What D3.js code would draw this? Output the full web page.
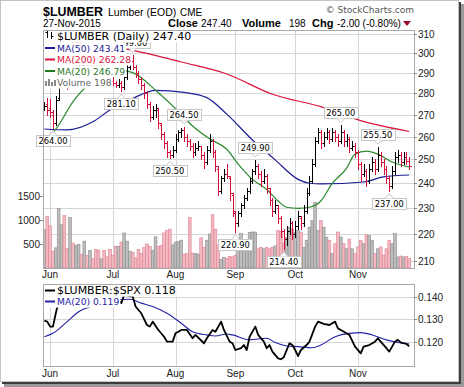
<!DOCTYPE html>
<html>
<head>
<meta charset="utf-8">
<title>$LUMBER</title>
<script src="https://cdnjs.cloudflare.com/ajax/libs/d3/7.8.5/d3.min.js"></script>
<style>
  body { margin: 0; background: #fff; }
  svg { display: block; font-family: "Liberation Sans", Arial, sans-serif; }
  .grid { stroke: #d6d6d6; stroke-width: 1; shape-rendering: crispEdges; }
  .frame { fill: none; stroke: #a8a8a8; shape-rendering: crispEdges; }
  .axis text { font-size: 10px; fill: #222; }
  .axis line { stroke: #888; shape-rendering: crispEdges; }
  .legend { font-family: "DejaVu Sans", Verdana, sans-serif; font-size: 9px; }
  .peak text { font-family: "DejaVu Sans", Verdana, sans-serif; font-size: 8.3px; fill: #000; }
</style>
</head>
<body>
<svg id="chart" width="464" height="387"></svg>
<script>
// trading days
var startDay = "2015-05-28", endDay = "2015-11-27";
var holidays = ["2015-07-03", "2015-09-07", "2015-11-26"];

// daily OHLC + volume, one entry per trading day
var opens = [273,275,273,270,266,278,284,288,286,284, 290,288,293,296,294,297,295,297,295,293,
  291,293,290,288,286,285,284,285,283,288, 293,296,293,290,287,284,280,275,269,272,
  272,265,261,257,253,252,254,259,262,263, 260,258,256,253,255,256,252,249,254,258,
  253,246,237,242,244,242,235,228,224,228, 231,234,237,241,245,247,244,241,243,237,
  233,229,230,226,221,218,221,224,220,223, 226,224,229,236,241,248,258,262,257,260,
  262,259,262,260,258,262,258,259,255,256, 253,248,244,245,241,246,249,246,252,249,
  246,242,239,245,251,252,249,251,249.4];
var highs = [276,278,277.5,272,279,285,290,290,288,291, 292,294,297,297,298,298,298,298,296,294,
  294,294,291,289,288,286,287,286,289,294, 297,299,294,291,288,285,281,276,274,275,
  273,266,262,258,254,256,261,263,264,264.5, 261,259,257,257,258,256,253,256,261,259,
  254,247,243,246,248,243,236,229,229,232, 235,238,242,246,249.9,248,245,246,244,238,
  234,233,231,227,222,223,226,225,225,229, 227,231,238,243,250,260,264,263,262,264,
  263,264,263,261,265,263,261,260,258,257, 254,249,248,246,248,251,250,255.5,253,250,
  247,243,247,253,254,253,253,253,251];
var lows = [272,270,269,264,265,277,283,285,282,283, 287,287,292,292,293,293,294,293,291,289,
  290,289,286,284,284,283,283,281.1,282,287, 292,292,288,285,282,278,273,267,268,269,
  264,259,255,251,250.5,251,253,258,260,258, 256,254,251,252,254,250,246.5,248,253,251,
  245,235,236,241,242,233,227,220.9,223,227, 230,233,236,240,244,242,239,240,236,231,
  227,228,224,219,214.4,216,220,218,219,222, 222,223,228,235,240,247,257,255,256,259,
  257,258,258,256,257,256,256,253,254,251, 246,241,243,239,240,245,244,245,247,244,
  240,237,238,244,249,247,248,248,246];
var closes = [274,272,271,266,277,283,288,286,284,290, 288,293,296,294,297,295,297,295,293,291,
  293,290,288,286,285,284,285,283,288,293, 296,293,290,287,284,280,275,269,272,273,
  266,261,257,253,252,254,259,262,263,260, 258,256,253,255,256,252,249,254,258,253,
  247,237,242,244,243,236,229,224,228,231, 234,237,241,245,247,244,241,243,238,233,
  229,231,226,221,218,221,224,220,223,227, 224,229,236,241,248,258,262,257,260,262,
  259,262,260,258,262,258,259,255,256,253, 248,244,245,241,246,249,246,252,249,246,
  242,239,245,251,252,249,251,249.4,247.4];
var volumes = [800,1070,880,350,420,1240,900,1090,410,1050, 520,470,490,280,560,260,370,200,390,370,
  190,370,240,390,260,450,450,540,730,560, 350,330,210,390,300,430,500,450,370,650,
  450,470,730,780,810,480,540,550,580,290, 300,1050,310,300,290,630,430,580,710,1110,
  810,480,180,220,200,240,230,260,410,720, 400,420,740,750,750,400,430,400,430,400,
  430,460,780,760,520,640,850,810,740,780, 740,430,580,850,990,1370,780,990,850,645,
  577,300,506,750,645,506,400,600,400,300, 440,575,506,690,680,575,300,400,440,270,
  400,575,506,720,230,250,230,240,198];

// moving averages: [day index, value]
var ma20Pts = [[0,259],[4,263.4],[10,276],[16,284.9],[21,289],[26,291.5],[31,290.2],[40,280.3],[46,272.8],
  [52,264.8],[58,259],[64,254.4],[68,248],[73,241.6],[78,237.4],[82,232.8],[85,230.3],[89,229.9],
  [93,230.3],[97,232.8],[101,239.9],[106,246.2],[109,252.3],[113,253.6],[117,252.3],[122,248.9],[128,246.79]];
var ma50Pts = [[0,263.4],[8,263],[17,266.7],[23,272.1],[31,277.6],[39,281.5],[49,280.5],[57,278],
  [64,270.2],[73,258.5],[81,249.8],[89,241.6],[93,240],[97,239.7],[112,240.5],[119,242.6],[128,243.41]];
var ma200Pts = [[0,308],[12,305.5],[28,302.3],[31,301.5],[48,295.5],[64,289.5],[80,279.6],[97,273.7],
  [111,267.2],[128,262.28]];

// $LUMBER:$SPX ratio and its MA(20)
var ratioPts = [[0,0.1293],[1,0.1289],[2,0.1267],[3,0.1267],[4,0.1326],[5,0.1378],[7,0.1405],[10,0.1425],
  [13,0.1415],[16,0.1440],[19,0.1420],[22,0.1430],[25,0.1393],[27,0.1371],[28,0.1408],[31,0.1400],
  [32,0.1356],[34,0.1326],[36,0.1274],[37,0.1267],[38,0.1289],[40,0.1252],[42,0.1222],[43,0.1200],
  [45,0.1200],[46,0.1237],[47,0.1244],[48,0.1252],[50,0.1252],[52,0.1215],[53,0.1230],[56,0.1193],
  [57,0.1215],[59,0.1252],[60,0.1244],[62,0.1289],[63,0.1252],[65,0.1200],[66,0.1193],[67,0.1163],
  [69,0.1171],[70,0.1185],[71,0.1163],[72,0.1222],[74,0.1267],[75,0.1230],[77,0.1200],[78,0.1171],
  [79,0.1185],[80,0.1156],[82,0.1126],[83,0.1122],[84,0.1131],[86,0.1193],[87,0.1185],[88,0.1163],
  [89,0.1136],[90,0.1163],[92,0.1185],[93,0.1200],[95,0.1267],[96,0.1289],[98,0.1279],[100,0.1274],
  [102,0.1289],[103,0.1259],[104,0.1252],[106,0.1237],[107,0.1230],[109,0.1178],[111,0.1148],
  [112,0.1178],[114,0.1185],[116,0.1200],[117,0.1215],[118,0.1200],[120,0.1171],[121,0.1156],
  [123,0.1200],[124,0.1208],[125,0.1197],[126,0.1193],[127,0.1190],[128,0.118]];
var ratioMaPts = [[0,0.1222],[3,0.1237],[8,0.1289],[12,0.1333],[17,0.1359],[25,0.1385],[30,0.1388],
  [34,0.1371],[38,0.1356],[43,0.1326],[48,0.1282],[52,0.1244],[57,0.1230],[60,0.1225],[64,0.1234],
  [66,0.1230],[72,0.1208],[78,0.1215],[81,0.1196],[85,0.1181],[89,0.1178],[94,0.1173],[97,0.1185],
  [102,0.1222],[107,0.1237],[111,0.1240],[115,0.1230],[120,0.1208],[124,0.1196],[128,0.119]];

// annotated highs / lows: [day index, "high"|"low"]
var peaks = [[3,"low"],[27,"low"],[31,"high"],[44,"low"],[49,"high"],[67,"low"],[74,"high"],
  [84,"low"],[104,"high"],[117,"high"],[121,"low"]];

var priceTicks = [210,220,230,240,250,260,270,280,290,300,310];
var volumeTicks = [500,1000,1500];
var ratioTicks = [0.120,0.130,0.140];

// ---------------------------------------------------------------
var parse = d3.utcParse("%Y-%m-%d"), fmt = d3.utcFormat("%Y-%m-%d");
var days = d3.utcDays(parse(startDay), d3.utcDay.offset(parse(endDay), 1))
  .filter(function(d) { return d.getUTCDay() % 6 !== 0 && holidays.indexOf(fmt(d)) < 0; });
var monthStarts = [];
days.forEach(function(d, i) {
  if (i > 0 && d.getUTCMonth() !== days[i - 1].getUTCMonth()) monthStarts.push(i);
});

var P = {l: 43, r: 414, t: 30, b: 268};
var Q = {t: 284, b: 366};

var x = d3.scaleLinear().domain([0, days.length - 1]).range([44.4, 409.2]);
var yP = d3.scaleLog().domain([207.5, 312.2]).range([P.b, P.t]);
var yV = d3.scaleLinear().domain([0, 4958]).range([P.b, P.t]);
var yR = d3.scaleLinear().domain([0.1092, 0.1456]).range([Q.b, Q.t]);

var RED = "#d40f3c";
function px(v) { return Math.round(v) + 0.5; }

var svg = d3.select("#chart");

// outer frame with shadow
svg.append("rect").attr("x", 4).attr("y", 4).attr("width", 460).attr("height", 383).attr("fill", "#9a9a9a");
svg.append("rect").attr("x", 2).attr("y", 2).attr("width", 459).attr("height", 382).attr("fill", "#3c3c3c");
svg.append("rect").attr("x", 0.5).attr("y", 0.5).attr("width", 458).attr("height", 381)
  .attr("fill", "#fff").attr("stroke", "#c4c4c4");

var defs = svg.append("defs");
defs.append("clipPath").attr("id", "clipP").append("rect")
  .attr("x", P.l).attr("y", P.t).attr("width", P.r - P.l).attr("height", P.b - P.t);
defs.append("clipPath").attr("id", "clipQ").append("rect")
  .attr("x", P.l).attr("y", Q.t).attr("width", P.r - P.l).attr("height", Q.b - Q.t);

// header
var head = svg.append("g");
head.append("text").attr("x", 43).attr("y", 16).attr("font-size", 13.5).attr("font-weight", "bold")
  .attr("textLength", 60).attr("lengthAdjust", "spacingAndGlyphs").text("$LUMBER");
head.append("text").attr("x", 108).attr("y", 16).attr("font-size", 10.5).text("Lumber (EOD)");
head.append("text").attr("x", 180).attr("y", 16).attr("font-size", 10).text("CME");
head.append("text").attr("x", 43).attr("y", 27).attr("font-size", 10).text("27-Nov-2015");
head.append("text").attr("x", 168).attr("y", 27).attr("font-size", 11).attr("font-weight", "bold").text("Close");
head.append("text").attr("x", 201).attr("y", 27).attr("font-size", 10).text("247.40");
head.append("text").attr("x", 242).attr("y", 27).attr("font-size", 11).attr("font-weight", "bold").text("Volume");
head.append("text").attr("x", 289).attr("y", 27).attr("font-size", 10).text("198");
head.append("text").attr("x", 312).attr("y", 27).attr("font-size", 11).attr("font-weight", "bold").text("Chg");
head.append("text").attr("x", 337).attr("y", 27).attr("font-size", 10).text("-2.00 (-0.80%)");
head.append("path").attr("d", "M403,21L411,21L407,26Z").attr("fill", "#99102e");
head.append("text").attr("x", 414).attr("y", 13).attr("text-anchor", "end")
  .attr("font-family", "'DejaVu Sans', Verdana, sans-serif").attr("font-size", 9).attr("fill", "#555")
  .text("\u00a9 StockCharts.com");

// grids
var grid = svg.append("g");
grid.selectAll(".hp").data(priceTicks).join("line").attr("class", "grid")
  .attr("x1", P.l).attr("x2", P.r).attr("y1", function(d) { return px(yP(d)); }).attr("y2", function(d) { return px(yP(d)); });
grid.selectAll(".hr").data(ratioTicks).join("line").attr("class", "grid hr")
  .attr("x1", P.l).attr("x2", P.r).attr("y1", function(d) { return px(yR(d)); }).attr("y2", function(d) { return px(yR(d)); });
monthStarts.forEach(function(i) {
  grid.append("line").attr("class", "grid").attr("x1", px(x(i))).attr("x2", px(x(i))).attr("y1", P.t).attr("y2", P.b);
  grid.append("line").attr("class", "grid").attr("x1", px(x(i))).attr("x2", px(x(i))).attr("y1", Q.t).attr("y2", Q.b);
});

// volume bars
var up = closes.map(function(c, i) { return i === 0 ? true : c > closes[i - 1]; });
svg.append("g").attr("clip-path", "url(#clipP)").selectAll("rect").data(volumes).join("rect")
  .attr("x", function(d, i) { return x(i) - 1.4; })
  .attr("width", 2.8)
  .attr("y", function(d) { return yV(d); })
  .attr("height", function(d) { return P.b - yV(d); })
  .attr("fill", function(d, i) { return up[i] ? "#bdbdbd" : "#f3b9c1"; })
  .attr("stroke", function(d, i) { return up[i] ? "#8c8c8c" : "#de8294"; })
  .attr("stroke-width", 0.6);

// moving averages
var maLine = d3.line().x(function(d) { return x(d[0]); }).y(function(d) { return yP(d[1]); }).curve(d3.curveMonotoneX);
var maG = svg.append("g").attr("clip-path", "url(#clipP)").attr("fill", "none");
maG.append("path").attr("d", maLine(ma200Pts)).attr("stroke", "#dc143c").attr("stroke-width", 1.2);
maG.append("path").attr("d", maLine(ma50Pts)).attr("stroke", "#1c1c96").attr("stroke-width", 1.2);
maG.append("path").attr("d", maLine(ma20Pts)).attr("stroke", "#2b8a2b").attr("stroke-width", 1.2);

// OHLC bars
var bars = svg.append("g").attr("clip-path", "url(#clipP)").attr("shape-rendering", "crispEdges");
closes.forEach(function(c, i) {
  var cx = px(x(i)), col = up[i] ? "#000" : RED;
  var g = bars.append("g").attr("stroke", col).attr("stroke-width", 1);
  g.append("line").attr("x1", cx).attr("x2", cx).attr("y1", Math.round(yP(highs[i]))).attr("y2", Math.round(yP(lows[i])) + 1);
  g.append("line").attr("x1", cx - 2).attr("x2", cx).attr("y1", px(yP(opens[i]))).attr("y2", px(yP(opens[i])));
  g.append("line").attr("x1", cx).attr("x2", cx + 2).attr("y1", px(yP(c))).attr("y2", px(yP(c)));
});

// high / low annotations
var pk = svg.append("g").attr("class", "peak");
peaks.forEach(function(p) {
  var i = p[0], isHigh = p[1] === "high";
  var v = isHigh ? highs[i] : lows[i];
  var cx = x(i), yv = yP(v);
  var g = pk.append("g");
  var t = g.append("text").attr("text-anchor", "middle").attr("x", cx).text(v.toFixed(2));
  var w = t.node().getComputedTextLength() + 5, h = 11;
  var top = isHigh ? yv - 7 - h : yv + 7;
  var tipY = isHigh ? top + h + 4 : top - 4, baseY = isHigh ? top + h : top;
  g.insert("rect", "text").attr("x", Math.round(cx - w / 2) + 0.5).attr("y", Math.round(top) + 0.5)
    .attr("width", Math.round(w)).attr("height", h).attr("fill", "#fff").attr("stroke", "#c6c6c6");
  g.insert("path", "text").attr("d", "M" + (cx - 4) + "," + (Math.round(baseY) + 0.5) + "L" + cx + "," + tipY + "L" + (cx + 4) + "," + (Math.round(baseY) + 0.5))
    .attr("fill", "#fff").attr("stroke", "#c6c6c6");
  t.attr("y", Math.round(top) + 8.8);
});

// ratio panel lines
var rLine = d3.line().x(function(d) { return x(d[0]); }).y(function(d) { return yR(d[1]); });
var rG = svg.append("g").attr("clip-path", "url(#clipQ)").attr("fill", "none");
rG.append("path").attr("d", rLine.curve(d3.curveMonotoneX)(ratioMaPts)).attr("stroke", "#2323a6").attr("stroke-width", 1.1);
rG.append("path").attr("d", rLine.curve(d3.curveLinear)(ratioPts)).attr("stroke", "#000").attr("stroke-width", 1.8)
  .attr("stroke-linejoin", "round");

// panel frames
svg.append("rect").attr("class", "frame").attr("x", P.l + 0.5).attr("y", P.t + 0.5).attr("width", P.r - P.l).attr("height", P.b - P.t);
svg.append("rect").attr("class", "frame").attr("x", P.l + 0.5).attr("y", Q.t + 0.5).attr("width", P.r - P.l).attr("height", Q.b - Q.t);

// axes
var ax = svg.append("g").attr("class", "axis");
priceTicks.forEach(function(v) {
  var yy = px(yP(v));
  ax.append("line").attr("x1", P.r).attr("x2", P.r + 3).attr("y1", yy).attr("y2", yy);
  ax.append("text").attr("x", P.r + 4).attr("y", yy + 3.5).text(v);
});
ratioTicks.forEach(function(v) {
  var yy = px(yR(v));
  ax.append("line").attr("x1", P.r).attr("x2", P.r + 3).attr("y1", yy).attr("y2", yy);
  ax.append("text").attr("x", P.r + 4).attr("y", yy + 3.5).text(v.toFixed(3));
});
volumeTicks.forEach(function(v) {
  var yy = px(yV(v));
  ax.append("line").attr("x1", P.l - 3).attr("x2", P.l).attr("y1", yy).attr("y2", yy);
  ax.append("text").attr("x", P.l - 3).attr("y", yy + 3.5).attr("text-anchor", "end").text(v);
});
var monFmt = d3.utcFormat("%b");
monthStarts.forEach(function(i) {
  ax.append("text").attr("x", x(i)).attr("y", 278).attr("text-anchor", "middle").text(monFmt(days[i]));
  ax.append("text").attr("x", x(i)).attr("y", 377).attr("text-anchor", "middle").text(monFmt(days[i]));
});

// legends
function legendRow(g, y, label, color, size, icon) {
  var row = g.append("g");
  var t = row.append("text").attr("x", 57).attr("y", y).attr("fill", color).attr("font-size", size).text(label);
  var w = t.node().getComputedTextLength();
  row.insert("rect", "text").attr("x", P.l + 1).attr("y", y - 9).attr("width", 57 + w + 1 - P.l - 1).attr("height", 11.6).attr("fill", "#fff");
  icon(row, y, color);
}
function dash(row, y, color) {
  row.append("line").attr("x1", 45).attr("x2", 55).attr("y1", y - 3.5).attr("y2", y - 3.5).attr("stroke", color).attr("stroke-width", 2);
}
function barIcon(row, y, color) {
  row.append("path").attr("d", "M47.5," + (y - 9) + "V" + (y - 2) + "M45.5," + (y - 7.5) + "H47.5M51.5," + (y - 8) + "V" + (y - 1) + "M51.5," + (y - 3.5) + "H53.5")
    .attr("stroke", "#000").attr("fill", "none");
}
function volIcon(row, y, color) {
  [[45, 5], [48, 7], [51, 4], [54, 6]].forEach(function(b) {
    row.append("rect").attr("x", b[0]).attr("y", y - b[1]).attr("width", 2).attr("height", b[1]).attr("fill", "#888");
  });
}
var lg = svg.append("g").attr("class", "legend");
legendRow(lg, 40, "$LUMBER (Daily) 247.40", "#000", 11, barIcon);
legendRow(lg, 51.5, "MA(50) 243.41", "#1c1c96", 9.2, dash);
legendRow(lg, 63, "MA(200) 262.28", "#dc143c", 9.2, dash);
legendRow(lg, 74.5, "MA(20) 246.79", "#1f7a1f", 9.2, dash);
legendRow(lg, 86, "Volume 198", "#666", 9.2, volIcon);
legendRow(lg, 294, "$LUMBER:$SPX 0.118", "#000", 11, dash);
legendRow(lg, 305, "MA(20) 0.119", "#2323a6", 9.2, dash);
</script>
</body>
</html>
